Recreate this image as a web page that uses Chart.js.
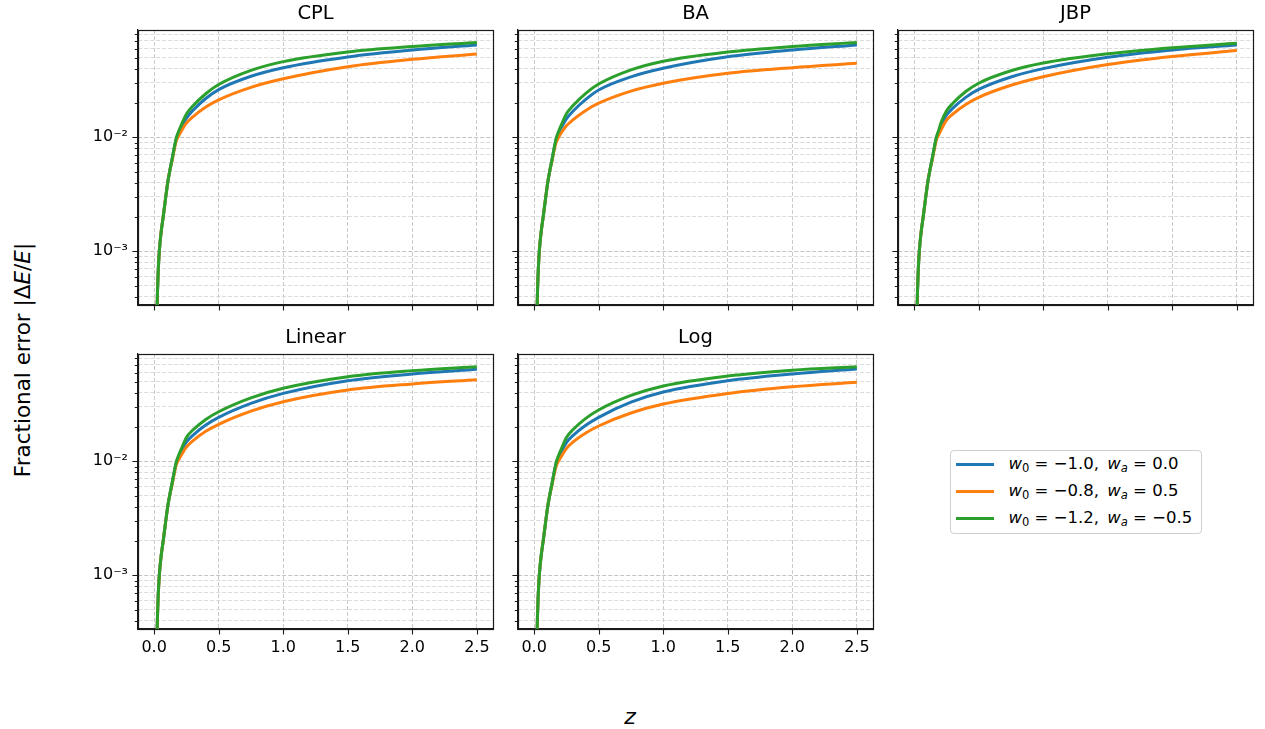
<!DOCTYPE html>
<html>
<head>
<meta charset="utf-8">
<script src="https://cdn.jsdelivr.net/npm/chart.js@4.4.1/dist/chart.umd.min.js"></script>
<style>
  html, body { margin: 0; padding: 0; background: #fff; }
  body { width: 1265px; height: 729px; position: relative; overflow: hidden; font-family: 'DejaVu Sans', sans-serif; color: #000; }
  canvas.panel { position: absolute; }
  #ylabel { position: absolute; left: 22px; top: 360px; transform: translate(-50%, -50%) rotate(-90deg); font-size: 21.5px; white-space: nowrap; }
  #xlabel { position: absolute; left: 630px; top: 716px; transform: translate(-50%, -50%); font-size: 22px; font-style: italic; }
  #legend { position: absolute; left: 949.5px; top: 449.5px; width: 252px; height: 84px; box-sizing: border-box;
            border: 1px solid #cfcfcf; border-radius: 4px; background: rgba(255,255,255,0.8); }
  #legend .row { position: absolute; left: 0; height: 22px; line-height: 22px; white-space: nowrap; font-size: 16.5px; }
  #legend .swatch { position: absolute; left: 5px; top: 9.5px; width: 38px; height: 3px; }
  #legend .txt { position: absolute; left: 58px; top: 0; }
  #legend sub { font-size: 70%; vertical-align: -0.25em; line-height: 0; }
</style>
</head>
<body>
<div id="ylabel">Fractional error |Δ<i>E</i>/<i>E</i>|</div>
<div id="xlabel">z</div>
<div id="legend"></div>
<script>
// redshift grid shared by every panel
const Z = [0.02, 0.025, 0.03, 0.04, 0.055, 0.07, 0.09, 0.105, 0.12, 0.14, 0.155,
           0.17, 0.19, 0.21, 0.25, 0.3, 0.4, 0.5, 0.75, 1.0, 1.5, 2.0, 2.5];

// fiducial cosmologies
const W0 = [-1.0, -0.8, -1.2];
const WA = [0.0, 0.5, -0.5];
const COLORS = ['#1f77b4', '#ff7f0e', '#2ca02c'];

const PANEL_TITLES = ['CPL', 'BA', 'JBP', 'Linear', 'Log'];

// |dE/E| (A: w0=-1.0, B: w0=-0.8, C: w0=-1.2)
const CPL_A = [2.0e-4, 4.0e-4, 6.0e-4, 1.0e-3, 1.5e-3, 2.0e-3, 3.0e-3, 4.0e-3, 5.0e-3, 6.5e-3, 8.0e-3,
               0.0096, 0.0110, 0.0122, 0.0147, 0.0172, 0.0219, 0.0262, 0.0343, 0.0408, 0.0507, 0.0583, 0.0645];
const CPL_B = [2.0e-4, 4.0e-4, 6.0e-4, 1.0e-3, 1.5e-3, 2.0e-3, 3.0e-3, 4.0e-3, 5.0e-3, 6.3e-3, 7.7e-3,
               0.0092, 0.0103, 0.0113, 0.0133, 0.0151, 0.0184, 0.0213, 0.0274, 0.0326, 0.0416, 0.0483, 0.0538];
const CPL_C = [2.0e-4, 4.0e-4, 6.0e-4, 1.0e-3, 1.5e-3, 2.0e-3, 3.0e-3, 4.0e-3, 5.0e-3, 6.5e-3, 8.0e-3,
               0.0097, 0.0113, 0.0128, 0.0160, 0.0188, 0.0241, 0.0290, 0.0386, 0.0461, 0.0560, 0.0625, 0.0678];

const BA_A = [2.0e-4, 4.0e-4, 6.0e-4, 1.0e-3, 1.5e-3, 2.0e-3, 3.0e-3, 4.0e-3, 5.0e-3, 6.5e-3, 8.0e-3,
              0.0096, 0.0109, 0.0121, 0.0145, 0.0169, 0.0215, 0.0260, 0.0339, 0.0403, 0.0508, 0.0583, 0.0646];
const BA_B = [2.0e-4, 4.0e-4, 6.0e-4, 1.0e-3, 1.5e-3, 2.0e-3, 3.0e-3, 4.0e-3, 5.0e-3, 6.3e-3, 7.7e-3,
              0.0090, 0.0100, 0.0109, 0.0126, 0.0142, 0.0172, 0.0199, 0.0254, 0.0298, 0.0364, 0.0408, 0.0445];
const BA_C = [2.0e-4, 4.0e-4, 6.0e-4, 1.0e-3, 1.5e-3, 2.0e-3, 3.0e-3, 4.0e-3, 5.0e-3, 6.5e-3, 8.0e-3,
              0.0097, 0.0113, 0.0128, 0.0161, 0.0189, 0.0243, 0.0293, 0.0390, 0.0465, 0.0560, 0.0626, 0.0678];

const JBP_A = [2.0e-4, 4.0e-4, 6.0e-4, 1.0e-3, 1.5e-3, 2.0e-3, 3.0e-3, 4.0e-3, 5.0e-3, 6.5e-3, 8.0e-3,
               0.0097, 0.0112, 0.0127, 0.0156, 0.0180, 0.0224, 0.0263, 0.0338, 0.0400, 0.0503, 0.0583, 0.0644];
const JBP_B = [2.0e-4, 4.0e-4, 6.0e-4, 1.0e-3, 1.5e-3, 2.0e-3, 3.0e-3, 4.0e-3, 5.0e-3, 6.3e-3, 7.7e-3,
               0.0093, 0.0105, 0.0117, 0.0141, 0.0160, 0.0194, 0.0224, 0.0286, 0.0340, 0.0435, 0.0512, 0.0576];
const JBP_C = [2.0e-4, 4.0e-4, 6.0e-4, 1.0e-3, 1.5e-3, 2.0e-3, 3.0e-3, 4.0e-3, 5.0e-3, 6.5e-3, 8.0e-3,
               0.0098, 0.0115, 0.0136, 0.0170, 0.0199, 0.0252, 0.0298, 0.0383, 0.0448, 0.0540, 0.0611, 0.0668];

const LIN_A = [2.0e-4, 4.0e-4, 6.0e-4, 1.0e-3, 1.5e-3, 2.0e-3, 3.0e-3, 4.0e-3, 5.0e-3, 6.5e-3, 8.0e-3,
               0.0096, 0.0110, 0.0122, 0.0148, 0.0169, 0.0208, 0.0243, 0.0322, 0.0394, 0.0509, 0.0583, 0.0641];
const LIN_B = [2.0e-4, 4.0e-4, 6.0e-4, 1.0e-3, 1.5e-3, 2.0e-3, 3.0e-3, 4.0e-3, 5.0e-3, 6.3e-3, 7.7e-3,
               0.0092, 0.0103, 0.0113, 0.0133, 0.0151, 0.0183, 0.0211, 0.0275, 0.0333, 0.0422, 0.0477, 0.0520];
const LIN_C = [2.0e-4, 4.0e-4, 6.0e-4, 1.0e-3, 1.5e-3, 2.0e-3, 3.0e-3, 4.0e-3, 5.0e-3, 6.5e-3, 8.0e-3,
               0.0097, 0.0113, 0.0128, 0.0162, 0.0188, 0.0233, 0.0272, 0.0360, 0.0437, 0.0552, 0.0624, 0.0676];

const LOG_A = [2.0e-4, 4.0e-4, 6.0e-4, 1.0e-3, 1.5e-3, 2.0e-3, 3.0e-3, 4.0e-3, 5.0e-3, 6.5e-3, 8.0e-3,
               0.0096, 0.0109, 0.0121, 0.0146, 0.0168, 0.0207, 0.0243, 0.0330, 0.0405, 0.0509, 0.0583, 0.0645];
const LOG_B = [2.0e-4, 4.0e-4, 6.0e-4, 1.0e-3, 1.5e-3, 2.0e-3, 3.0e-3, 4.0e-3, 5.0e-3, 6.3e-3, 7.7e-3,
               0.0090, 0.0101, 0.0110, 0.0129, 0.0147, 0.0177, 0.0204, 0.0265, 0.0318, 0.0394, 0.0451, 0.0493];
const LOG_C = [2.0e-4, 4.0e-4, 6.0e-4, 1.0e-3, 1.5e-3, 2.0e-3, 3.0e-3, 4.0e-3, 5.0e-3, 6.5e-3, 8.0e-3,
               0.0097, 0.0113, 0.0128, 0.0162, 0.0189, 0.0238, 0.0282, 0.0378, 0.0458, 0.0560, 0.0630, 0.0676];

const PANEL_SERIES = [
  [CPL_A, CPL_B, CPL_C],
  [BA_A, BA_B, BA_C],
  [JBP_A, JBP_B, JBP_C],
  [LIN_A, LIN_B, LIN_C],
  [LOG_A, LOG_B, LOG_C]
];

// axes
const X_MIN = -0.125, X_MAX = 2.625;
const X_TICKS = [0, 0.5, 1.0, 1.5, 2.0, 2.5];
const Y_MIN = 3.38e-4, Y_MAX = 0.0873;
const Y_TICKS = [4e-4, 5e-4, 6e-4, 7e-4, 8e-4, 9e-4,
                 1e-3, 2e-3, 3e-3, 4e-3, 5e-3, 6e-3, 7e-3, 8e-3, 9e-3,
                 1e-2, 2e-2, 3e-2, 4e-2, 5e-2, 6e-2, 7e-2, 8e-2];
const Y_MAJOR = [1e-3, 1e-2];
const Y_MAJOR_LABELS = ['10⁻³', '10⁻²'];

// where each panel's plot area sits on the page
const PANEL_POS = [
  {left: 138, top: 30}, {left: 518, top: 30}, {left: 898, top: 30},
  {left: 138, top: 354}, {left: 518, top: 354}
];
const AREA_W = 355, AREA_H = 275;
const Y_AXIS_W = 80, X_AXIS_H = 45, TITLE_H = 30, PAD_R = 12;

const FONT = "'DejaVu Sans', sans-serif";
const INK = '#1a1a1a';

function fmtNum(v) {
  return v.toFixed(1).replace('-', '\u2212');
}

function seriesLabelHtml(k) {
  return '<i>w</i><sub>0</sub> = ' + fmtNum(W0[k]) +
         ',\u2002<i>w</i><sub><i>a</i></sub> = ' + fmtNum(WA[k]);
}

// spines on all four sides plus matplotlib-style outward ticks
const framePlugin = {
  id: 'frame',
  afterDraw(chart) {
    const {ctx, chartArea: a, scales} = chart;
    ctx.save();
    ctx.strokeStyle = INK;
    ctx.lineWidth = 1.1;
    ctx.beginPath();
    X_TICKS.forEach(v => {
      const px = Math.round(scales.x.getPixelForValue(v)) + 0.5;
      ctx.moveTo(px, a.bottom);
      ctx.lineTo(px, a.bottom + 5.6);
    });
    Y_TICKS.forEach(v => {
      const py = Math.round(scales.y.getPixelForValue(v)) + 0.5;
      const len = Y_MAJOR.includes(v) ? 5.6 : 3.2;
      ctx.moveTo(a.left - len, py);
      ctx.lineTo(a.left, py);
    });
    ctx.stroke();
    ctx.lineWidth = 1.2;
    ctx.strokeRect(Math.round(a.left) + 0.5, Math.round(a.top) + 0.5,
                   Math.round(a.right - a.left), Math.round(a.bottom - a.top));
    ctx.restore();
  }
};

function makePanel(i) {
  const pos = PANEL_POS[i];
  const leftCol = i % 3 === 0;
  const bottomRow = i >= 3;

  const canvas = document.createElement('canvas');
  canvas.className = 'panel';
  canvas.width = Y_AXIS_W + AREA_W + PAD_R;
  canvas.height = TITLE_H + AREA_H + X_AXIS_H;
  canvas.style.left = (pos.left - Y_AXIS_W) + 'px';
  canvas.style.top = (pos.top - TITLE_H) + 'px';
  document.body.appendChild(canvas);

  const datasets = PANEL_SERIES[i].map((vals, k) => ({
    label: 'w0=' + W0[k] + ', wa=' + WA[k],
    data: Z.map((z, j) => ({x: z, y: vals[j]})),
    borderColor: COLORS[k],
    backgroundColor: COLORS[k],
    borderWidth: 3,
    pointRadius: 0,
    fill: false,
    cubicInterpolationMode: 'monotone',
    clip: 0,
    order: 3 - k
  }));

  return new Chart(canvas.getContext('2d'), {
    type: 'line',
    data: {datasets},
    plugins: [framePlugin],
    options: {
      responsive: false,
      animation: false,
      layout: {padding: {left: 0, right: PAD_R, top: 0, bottom: 0}},
      plugins: {
        legend: {display: false},
        tooltip: {enabled: false},
        title: {
          display: true,
          text: PANEL_TITLES[i],
          fullSize: false,
          color: '#000',
          font: {family: FONT, size: 19.5, weight: 'normal', lineHeight: 1.2},
          padding: {top: 2.5, bottom: 4.1}
        }
      },
      scales: {
        x: {
          type: 'linear',
          min: X_MIN,
          max: X_MAX,
          bounds: 'data',
          afterBuildTicks: s => { s.ticks = X_TICKS.map(v => ({value: v})); },
          afterFit: s => { s.height = X_AXIS_H; },
          grid: {color: '#bcbcbc', lineWidth: 0.8, drawTicks: false},
          border: {display: true, color: INK, width: 1.2, dash: [4, 2]},
          ticks: {
            padding: 9,
            autoSkip: false,
            maxRotation: 0,
            color: '#000',
            font: {family: FONT, size: 16},
            callback: v => bottomRow ? Number(v).toFixed(1) : ''
          }
        },
        y: {
          type: 'logarithmic',
          min: Y_MIN,
          max: Y_MAX,
          bounds: 'data',
          afterBuildTicks: s => {
            s.ticks = Y_TICKS.map(v => ({value: v, major: false}));
          },
          afterFit: s => { s.width = Y_AXIS_W; },
          grid: {
            color: c => (c.tick && Y_MAJOR.includes(c.tick.value)) ? '#b4b4b4' : '#d2d2d2',
            lineWidth: 0.8,
            drawTicks: false
          },
          border: {display: true, color: INK, width: 1.2, dash: [4, 2]},
          ticks: {
            padding: 10,
            autoSkip: false,
            color: '#000',
            font: {family: FONT, size: 16},
            callback: v => {
              const m = Y_MAJOR.indexOf(v);
              return (leftCol && m >= 0) ? Y_MAJOR_LABELS[m] : '';
            }
          }
        }
      }
    }
  });
}

function buildLegend() {
  const box = document.getElementById('legend');
  const rowCenters = [13.8, 40.5, 67.8];
  W0.forEach((w, k) => {
    const row = document.createElement('div');
    row.className = 'row';
    row.style.top = (rowCenters[k] - 11) + 'px';
    row.innerHTML = '<span class="swatch" style="background:' + COLORS[k] + '"></span>' +
                    '<span class="txt">' + seriesLabelHtml(k) + '</span>';
    box.appendChild(row);
  });
}

PANEL_TITLES.forEach((t, i) => makePanel(i));
buildLegend();
</script>
</body>
</html>
